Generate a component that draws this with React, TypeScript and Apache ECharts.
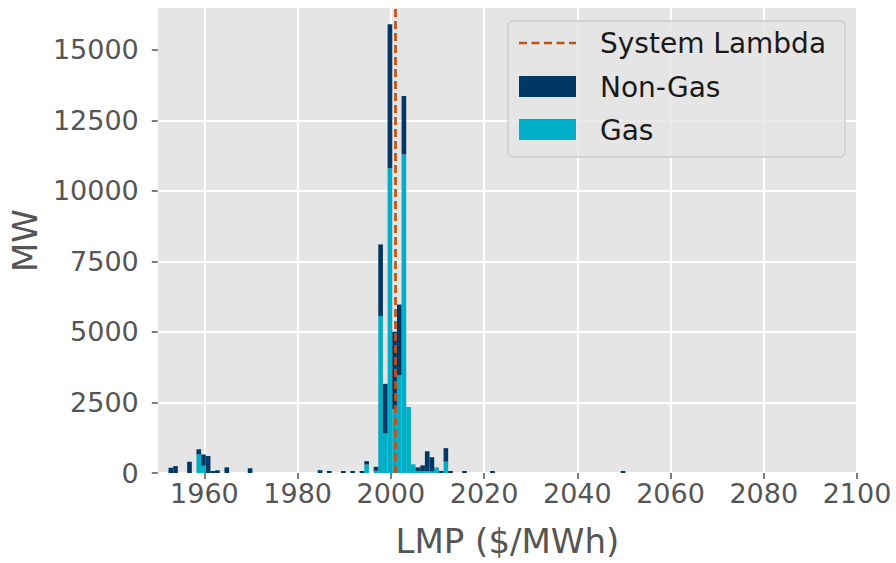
import React, { useEffect, useRef } from "react";
import * as echarts from "echarts";

// Histogram bins (left edge, $/MWh) with stacked capacity per fuel group (MW)
const binStart = [
  1952.3, 1953.3, 1956.3, 1958.3, 1959.3, 1960.3, 1961.3, 1962.3, 1964.3, 1969.3,
  1984.3, 1986.3, 1989.3, 1991.3, 1993.3, 1994.3, 1996.3, 1997.3, 1998.3, 1999.3,
  2000.3, 2001.3, 2002.3, 2003.3, 2004.3, 2005.3, 2006.3, 2007.3, 2008.3, 2009.3,
  2010.3, 2011.3, 2012.3, 2015.3, 2021.3, 2049.3,
];
const gasMW = [
  0, 0, 0, 660, 260, 0, 0, 0, 0, 0,
  0, 0, 0, 0, 0, 300, 80, 5560, 1400, 10800,
  2270, 3460, 11290, 2340, 310, 60, 60, 60, 60, 200,
  0, 400, 0, 0, 0, 0,
];
const nonGasMW = [
  186, 245, 400, 180, 400, 600, 70, 100, 200, 165,
  100, 70, 70, 70, 70, 120, 140, 2540, 1760, 5100,
  2740, 2510, 2070, 0, 0, 140, 210, 710, 500, 0,
  70, 480, 70, 70, 70, 70,
];
const BIN_WIDTH = 1;
const systemLambda = 2000.85;

const xTicks = [1960, 1980, 2000, 2020, 2040, 2060, 2080, 2100];
const yTicks = [0, 2500, 5000, 7500, 10000, 12500, 15000];

const GAS = "#00AEC7";
const NON_GAS = "#003865";
const LAMBDA = "#C8500F";
const TICK_TEXT = "#555555";
const FONT = "DejaVu Sans";

const gasData = binStart.map((s, i) => [s, 0, gasMW[i]]);
const nonGasData = binStart.map((s, i) => [s, gasMW[i], gasMW[i] + nonGasMW[i]]);

function binRenderer(color: string) {
  return (_params: any, api: any) => {
    const x0 = api.value(0);
    const lo = api.value(1);
    const hi = api.value(2);
    if (hi <= lo) return null;
    const a = api.coord([x0, lo]);
    const b = api.coord([x0 + BIN_WIDTH, hi]);
    return {
      type: "rect",
      shape: { x: a[0], y: b[1], width: b[0] - a[0], height: a[1] - b[1] },
      style: { fill: color },
    };
  };
}

const plain = (v: number) => String(v);

export default function App() {
  const ref = useRef<HTMLDivElement>(null);

  useEffect(() => {
    if (!ref.current) return;
    const chart = echarts.init(ref.current, null, { renderer: "svg" });

    const legendText = (text: string, y: number) => ({
      type: "text",
      x: 600,
      y,
      z: 101,
      style: {
        text,
        fontSize: 28,
        fontFamily: FONT,
        fill: "#1a1a1a",
        verticalAlign: "middle",
        align: "left",
      },
    });

    chart.setOption({
      animation: false,
      backgroundColor: "#ffffff",
      textStyle: { fontFamily: FONT },
      grid: {
        left: 157,
        right: 39,
        top: 8,
        bottom: 84,
        show: true,
        backgroundColor: "#E5E5E5",
        borderWidth: 0,
      },
      xAxis: {
        type: "value",
        min: 1950,
        max: 2100,
        interval: 10,
        name: "LMP ($/MWh)",
        nameLocation: "middle",
        nameGap: 51,
        nameTextStyle: { fontSize: 34, color: TICK_TEXT, fontFamily: FONT },
        axisLine: { show: false },
        axisTick: {
          show: true,
          customValues: xTicks,
          length: 6,
          lineStyle: { color: TICK_TEXT, width: 1.5 },
        },
        axisLabel: {
          customValues: xTicks,
          formatter: plain,
          fontSize: 27,
          color: TICK_TEXT,
          fontFamily: FONT,
          margin: 7,
        },
        splitLine: { show: true, lineStyle: { color: "#ffffff", width: 2 } },
      },
      yAxis: {
        type: "value",
        min: 0,
        max: 16480,
        interval: 2500,
        name: "MW",
        nameLocation: "middle",
        nameGap: 112,
        nameTextStyle: { fontSize: 34, color: TICK_TEXT, fontFamily: FONT },
        axisLine: { show: false },
        axisTick: {
          show: true,
          customValues: yTicks,
          length: 6,
          lineStyle: { color: TICK_TEXT, width: 1.5 },
        },
        axisLabel: {
          customValues: yTicks,
          formatter: plain,
          fontSize: 27,
          color: TICK_TEXT,
          fontFamily: FONT,
          margin: 19,
        },
        splitLine: {
          show: true,
          showMaxLine: false,
          lineStyle: { color: "#ffffff", width: 2 },
        },
      },
      series: [
        {
          name: "Gas",
          type: "custom",
          renderItem: binRenderer(GAS),
          encode: { x: 0, y: [1, 2] },
          data: gasData,
          z: 3,
        },
        {
          name: "Non-Gas",
          type: "custom",
          renderItem: binRenderer(NON_GAS),
          encode: { x: 0, y: [1, 2] },
          data: nonGasData,
          z: 3,
          markLine: {
            silent: true,
            symbol: ["none", "none"],
            label: { show: false },
            lineStyle: { color: LAMBDA, width: 2.7, type: [8, 4] },
            data: [{ xAxis: systemLambda }],
            z: 5,
          },
        },
      ],
      graphic: [
        {
          type: "rect",
          z: 100,
          shape: { x: 508, y: 21, width: 337, height: 136, r: 5 },
          style: { fill: "rgba(229,229,229,0.8)", stroke: "#CCCCCC", lineWidth: 1.3 },
        },
        {
          type: "line",
          z: 101,
          shape: { x1: 519, y1: 43, x2: 576, y2: 43 },
          style: { stroke: LAMBDA, lineWidth: 2.7, lineDash: [8, 4.5] },
        },
        {
          type: "rect",
          z: 101,
          shape: { x: 519, y: 76, width: 57, height: 21 },
          style: { fill: NON_GAS },
        },
        {
          type: "rect",
          z: 101,
          shape: { x: 519, y: 119, width: 57, height: 21 },
          style: { fill: GAS },
        },
        legendText("System Lambda", 43.5),
        legendText("Non-Gas", 87),
        legendText("Gas", 130),
      ],
    });

    return () => chart.dispose();
  }, []);

  return (
    <div
      ref={ref}
      style={{ position: "fixed", left: 0, top: 0, width: 896, height: 563 }}
    />
  );
}
